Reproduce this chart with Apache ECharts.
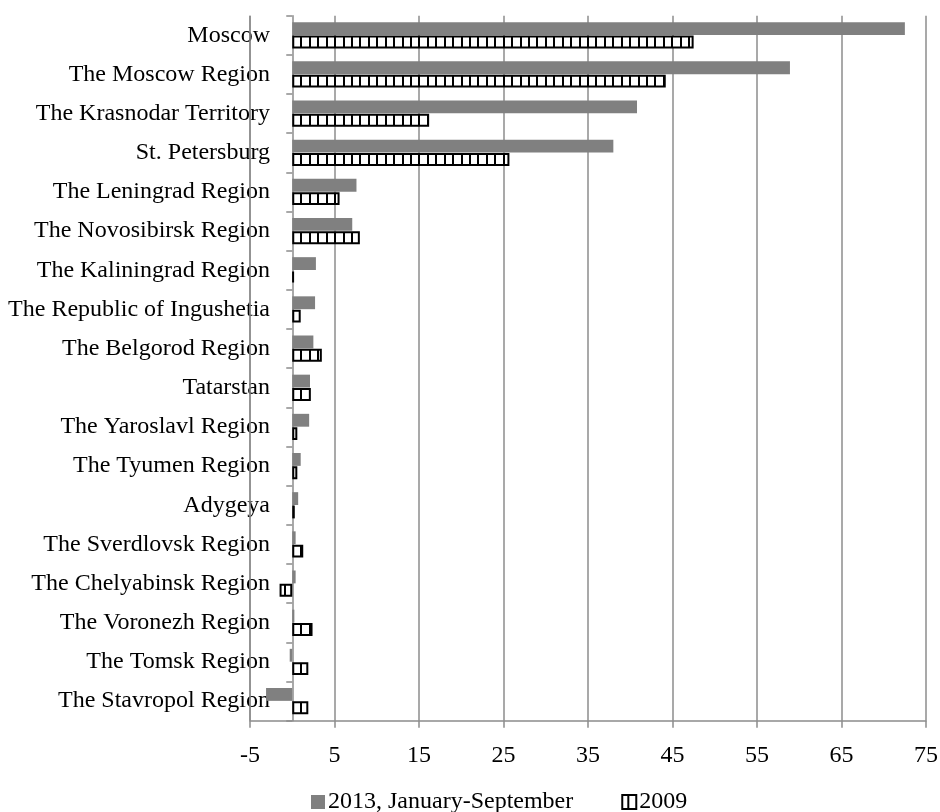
<!DOCTYPE html>
<html>
<head>
<meta charset="utf-8">
<script src="https://cdn.jsdelivr.net/npm/echarts@6/dist/echarts.min.js"></script>
<style>
  html, body { margin: 0; padding: 0; background: #fff; }
  #chart { width: 940px; height: 812px; }
</style>
</head>
<body>
<div id="chart"></div>
<script>
// Regions, top to bottom
const categories = [
  'Moscow', 'The Moscow Region', 'The Krasnodar Territory', 'St. Petersburg',
  'The Leningrad Region', 'The Novosibirsk Region', 'The Kaliningrad Region',
  'The Republic of Ingushetia', 'The Belgorod Region', 'Tatarstan',
  'The Yaroslavl Region', 'The Tyumen Region', 'Adygeya', 'The Sverdlovsk Region',
  'The Chelyabinsk Region', 'The Voronezh Region', 'The Tomsk Region',
  'The Stavropol Region'
];
const values2013 = [72.5, 58.9, 40.8, 38.0, 7.6, 7.1, 2.8, 2.7, 2.5, 2.1, 2.0, 1.0, 0.7, 0.4, 0.4, 0.25, -0.3, -3.1];
const values2009 = [47.5, 44.2, 16.2, 25.7, 5.6, 8.0, 0.2, 1.0, 3.5, 2.2, 0.6, 0.6, 0.3, 1.3, -1.5, 2.4, 1.9, 1.9];
const seriesNames = ['2013, January-September', '2009'];
const axisMin = -5, axisMax = 75, axisStep = 10;

const FONT = '"Liberation Serif", "Times New Roman", serif';
const FONT_SIZE = 24;
const GRID_GRAY = '#8c8c8c';

// Vertical-stripe fill for the 2009 bars
function stripeCanvas() {
  const c = document.createElement('canvas');
  c.width = 59; c.height = 16;
  const g = c.getContext('2d');
  g.fillStyle = '#fff';
  g.fillRect(0, 0, c.width, c.height);
  g.fillStyle = '#000';
  for (let k = 0; k < 7; k++) {
    g.fillRect(Math.round(k * 8.43), 0, 2, c.height);
  }
  return c;
}
const stripe = { image: stripeCanvas(), repeat: 'repeat', x: 292, y: 0 };

const chart = echarts.init(document.getElementById('chart'), null, { renderer: 'canvas' });
chart.setOption({
  animation: false,
  backgroundColor: '#fff',
  textStyle: { fontFamily: FONT },
  grid: {
    left: 250, right: 14, top: 15.7, bottom: 91.3,
    containLabel: false, outerBoundsMode: 'none'
  },
  legend: {
    left: 306, top: 785,
    itemWidth: 14, itemHeight: 14, itemGap: 48,
    icon: 'rect',
    textStyle: { fontFamily: FONT, fontSize: FONT_SIZE, color: '#000', padding: [0, 0, 0, -2] },
    data: seriesNames
  },
  xAxis: {
    type: 'value',
    min: axisMin, max: axisMax, interval: axisStep,
    axisLine: { show: true, lineStyle: { color: GRID_GRAY, width: 1.5 } },
    axisTick: { show: true, length: 7, lineStyle: { color: GRID_GRAY, width: 1.5 } },
    axisLabel: { fontFamily: FONT, fontSize: FONT_SIZE, color: '#000', margin: 23 },
    splitLine: {
      show: true, showMinLine: true, showMaxLine: true,
      lineStyle: { color: GRID_GRAY, width: 1.5 }
    }
  },
  yAxis: {
    type: 'category',
    inverse: true,
    data: categories,
    axisLine: { show: true, onZero: true, lineStyle: { color: GRID_GRAY, width: 1.5 } },
    axisTick: { show: true, length: 6, lineStyle: { color: GRID_GRAY, width: 1.5 } },
    // labels are laid out from the grid edge; pull them in so they end just left of the zero line
    axisLabel: { fontFamily: FONT, fontSize: FONT_SIZE, color: '#000', margin: -20 },
    splitLine: { show: false }
  },
  series: [
    {
      name: seriesNames[0],
      type: 'bar',
      data: values2013,
      barCategoryGap: '33%',
      barGap: '4%',
      // no clipping, so the edge gridline below keeps its full stroke width
      clip: false,
      itemStyle: { color: '#808080' },
      // gridline at the left end of the value range (the axis skips its first split line)
      markLine: {
        symbol: 'none',
        label: { show: false },
        emphasis: { disabled: true },
        lineStyle: { color: GRID_GRAY, width: 1.5, type: 'solid' },
        data: [{ xAxis: axisMin }]
      }
    },
    {
      name: seriesNames[1],
      type: 'bar',
      data: values2009,
      barCategoryGap: '33%',
      barGap: '4%',
      itemStyle: { color: stripe, borderColor: '#000', borderWidth: 2 }
    }
  ]
});
</script>
</body>
</html>
